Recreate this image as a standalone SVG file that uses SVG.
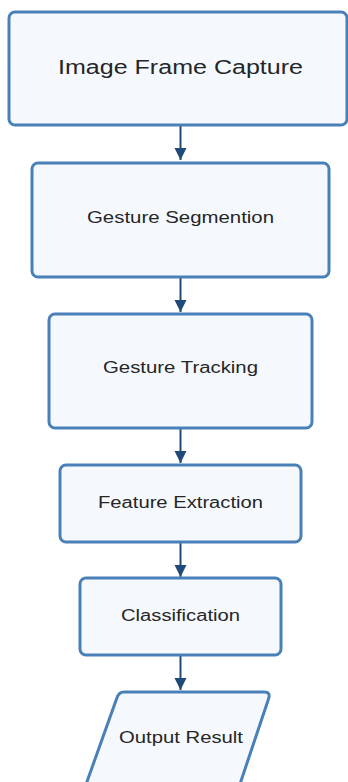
<svg xmlns="http://www.w3.org/2000/svg" width="348" height="782" viewBox="0 0 348 782">
<defs>
<style>
.n{fill:#f5f9fe;stroke:#4a80b8;stroke-width:3}
.t{font-family:"Liberation Sans",Arial,sans-serif;fill:#262626;text-anchor:middle}
.c{stroke:#1f4a78;stroke-width:2;fill:none}
</style>
<marker id="ah" markerWidth="12" markerHeight="17" refX="12" refY="8.5" orient="auto" markerUnits="userSpaceOnUse">
<path d="M0,2.5 L12,8.5 L0,14.5 Z" fill="#1f4a78"/>
</marker>
</defs>
<g id="connectors">
<line class="c" x1="180.5" y1="125" x2="180.5" y2="160" marker-end="url(#ah)"/>
<line class="c" x1="180.5" y1="277" x2="180.5" y2="312" marker-end="url(#ah)"/>
<line class="c" x1="180.5" y1="428" x2="180.5" y2="463" marker-end="url(#ah)"/>
<line class="c" x1="180.5" y1="542" x2="180.5" y2="577" marker-end="url(#ah)"/>
<line class="c" x1="180.5" y1="655" x2="180.5" y2="690" marker-end="url(#ah)"/>
</g>
<g id="n1">
<rect class="n" x="9" y="12" width="338" height="113" rx="6"/>
<text class="t" x="180.5" y="74" font-size="20" textLength="245" lengthAdjust="spacingAndGlyphs">Image Frame Capture</text>
</g>
<g id="n2">
<rect class="n" x="32" y="163" width="297" height="114" rx="6"/>
<text class="t" x="180.5" y="222.5" font-size="16" textLength="187" lengthAdjust="spacingAndGlyphs">Gesture Segmention</text>
</g>
<g id="n3">
<rect class="n" x="49" y="314" width="263" height="114" rx="6"/>
<text class="t" x="180.5" y="372.5" font-size="16" textLength="155" lengthAdjust="spacingAndGlyphs">Gesture Tracking</text>
</g>
<g id="n4">
<rect class="n" x="60" y="465" width="241" height="77" rx="6"/>
<text class="t" x="180.5" y="507.5" font-size="16" textLength="165" lengthAdjust="spacingAndGlyphs">Feature Extraction</text>
</g>
<g id="n5">
<rect class="n" x="80" y="578" width="201" height="77" rx="6"/>
<text class="t" x="180.5" y="621" font-size="16" textLength="119" lengthAdjust="spacingAndGlyphs">Classification</text>
</g>
<g id="n6">
<path class="n" d="M124,692 L264,692 Q271,692 268.5,699 L238,790 L84,790 L116.5,699 Q118.5,692 124,692 Z"/>
<text class="t" x="181" y="742.5" font-size="16" textLength="124" lengthAdjust="spacingAndGlyphs">Output Result</text>
</g>
</svg>
